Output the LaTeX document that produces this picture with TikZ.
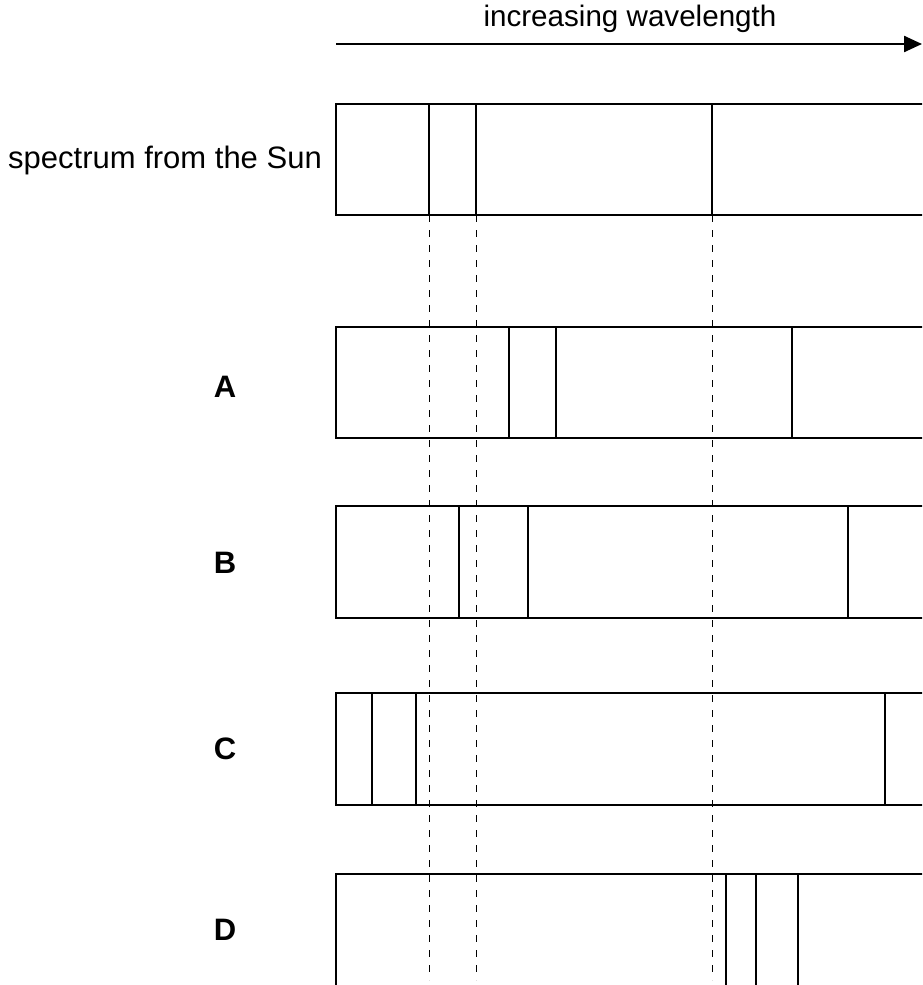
\documentclass[tikz,border=0pt]{standalone}
\usepackage{fontspec}
\setmainfont{Liberation Sans}
\usetikzlibrary{arrows.meta}

\begin{document}
\begin{tikzpicture}[
  x=0.5pt,y=-0.5pt,
  font=\fontsize{15.5}{18}\selectfont,
  band/.style={draw,line width=1.3pt},
  absline/.style={line width=1.3pt},
  guide/.style={line width=0.5pt,dash pattern=on 3.5pt off 4pt},
  arr/.style={-{Triangle[length=9pt,width=8pt]},line width=1.2pt},
  lab/.style={font=\fontsize{15.5}{18}\selectfont\bfseries}
]
\useasboundingbox (0,0) rectangle (922,985);
\clip (0,0) rectangle (922,985);

% wavelength axis
\coordinate (wl0) at (336,44);
\coordinate (wl1) at (922,44);
\draw[arr] (wl0) -- (wl1);
\node[font=\fontsize{14.8}{17}\selectfont] (wl) at (630,19) {increasing wavelength};

% reference spectrum
\node (sun) at (165,160) {spectrum from the Sun};
\draw[band] (336,104) rectangle (960,215);
\foreach \x in {429,476,712}
  \draw[absline] (\x,104) -- (\x,215);

% spectra A--D: label y / top / bottom / lines
\foreach \n/\y/\t/\b/\lines in {A/387/327/438/{509,556,792},
                                B/563/506/618/{459,528,848},
                                C/749/693/805/{372,416,885},
                                D/930/874/1000/{726,756,798}}{
  \node[lab] (l\n) at (225,\y) {\n};
  \draw[band] (336,\t) rectangle (960,\b);
  \foreach \x in \lines
    \draw[absline] (\x,\t) -- (\x,\b);
}

% guide lines from the Sun's spectrum
\foreach \x in {429,476,712}
  \draw[guide] (\x,215) -- (\x,980);
\end{tikzpicture}
\end{document}
